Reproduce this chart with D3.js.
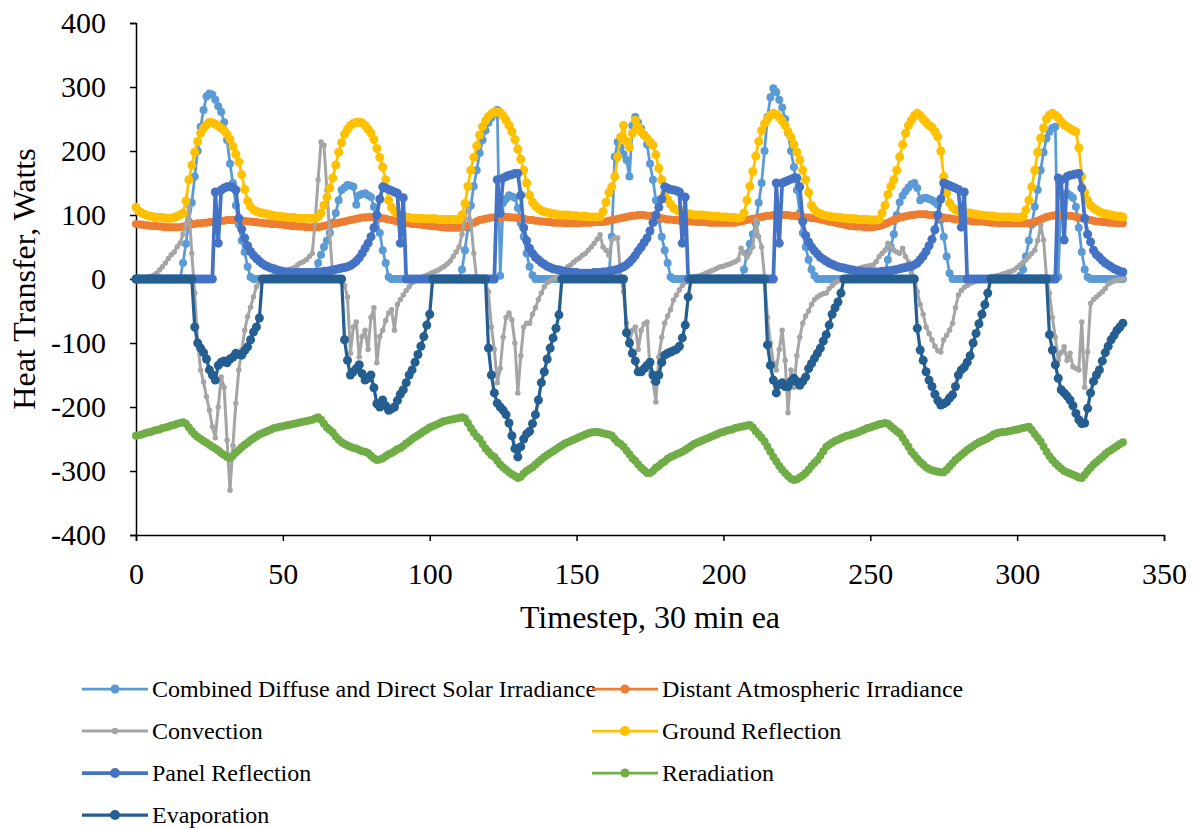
<!DOCTYPE html>
<html>
<head>
<meta charset="utf-8">
<script src="https://cdn.jsdelivr.net/npm/d3@7"></script>
<style>
  body { margin: 0; background: #fff; }
  svg text { font-family: "Liberation Serif", "Times New Roman", serif; fill: #000; }
</style>
</head>
<body>
<div id="chart"></div>
<script>
// Values, one row per day (48 half-hour steps)
const solar = [
  0,0,0,0,0,0,0,0,0,0,0,0,0,0,0,0,25,55,90,119,160,200,238,264,285,290,288,280,270,261,245,217,180,150,115,85,60,42,19,3,0,0,0,0,0,0,0,0,
  0,0,0,0,0,0,0,0,0,0,0,0,0,10,25,38,50,60,72,88,103,123,139,143,147,146,144,116,131,133,134,131,128,113,92,72,45,25,3,0,0,0,0,0,0,0,0,0,
  0,0,0,0,0,0,0,0,0,0,0,0,0,0,0,15,45,80,115,145,170,197,217,232,244,252,258,264,5,119,125,131,129,127,111,87,66,40,19,6,0,0,0,0,0,0,0,0,
  0,0,0,0,0,0,0,0,0,0,0,0,0,0,0,0,0,5,66,191,214,205,195,186,160,240,253,244,235,225,210,180,155,123,92,66,45,25,3,0,0,0,0,0,0,0,0,0,
  0,0,0,0,0,0,0,0,0,0,0,0,0,0,0,15,40,55,70,87,119,150,200,253,284,298,292,280,268,250,228,200,175,139,103,72,50,30,15,5,0,0,0,0,0,0,0,0,
  0,0,0,0,0,0,0,0,0,0,0,0,0,0,0,10,30,50,70,100,120,130,137,143,148,150,142,123,126,127,125,123,120,116,92,66,35,9,0,0,0,0,0,0,0,0,0,0,
  0,0,0,0,0,0,0,0,0,0,0,0,0,5,15,35,60,85,113,139,170,198,220,230,236,238,3,131,132,134,131,127,113,80,42,15,3,0,0,0,0,0,0,0,0,0,0,0,0
];

const atmospheric = [
  86,85,85,84,84,83,83,83,82,82,81,81,81,81,81,81,82,83,84,85,86,87,87,88,88,89,89,90,90,91,91,92,92,92,92,92,91,91,90,90,89,89,88,88,87,87,86,86,
  86,85,85,84,84,83,83,82,82,82,81,81,81,81,81,82,83,84,85,86,87,88,89,90,91,92,93,94,95,96,96,97,97,97,96,96,95,94,93,92,91,90,89,88,88,87,86,86,
  85,85,84,84,83,83,82,82,81,81,80,80,80,80,80,81,82,84,86,88,90,92,93,94,95,96,96,97,97,97,97,97,96,96,95,95,94,93,92,92,91,91,90,90,89,89,88,88,
  88,88,87,87,87,87,87,87,88,88,88,88,89,89,89,89,90,91,92,93,94,95,96,97,98,99,99,100,100,100,99,99,98,97,96,95,94,93,93,92,92,91,91,91,90,90,90,89,
  89,89,89,88,88,88,88,88,88,88,88,88,88,89,90,91,92,93,94,95,96,97,98,99,99,100,100,100,100,100,100,99,99,98,98,97,96,96,95,95,94,93,92,91,90,89,88,87,
  86,85,84,83,83,82,82,82,81,81,81,81,82,83,84,86,88,90,92,94,96,97,98,99,100,100,101,101,101,101,100,100,99,98,97,96,95,95,94,93,93,92,92,91,91,90,90,90,
  90,89,89,88,88,88,87,87,87,87,87,87,87,87,87,87,87,88,89,91,93,95,97,98,99,100,100,100,100,99,99,98,97,96,95,94,93,92,91,90,90,89,89,88,88,88,87,87,87
];

const convection = [
  0,0,1,2,3,4,6,9,14,19,25,32,38,42,50,56,70,85,113,40,-22,-100,-142,-161,-184,-205,-231,-248,-200,-153,-169,-252,-330,-260,-194,-142,-111,-80,-59,-44,-28,-12,-6,-2,0,2,4,6,
  8,10,12,13,14,16,18,22,25,27,30,35,40,90,155,214,209,139,69,3,0,-2,-5,-10,-28,-116,-75,-67,-122,-90,-80,-110,-60,-45,-131,-90,-80,-65,-53,-48,-80,-40,-32,-25,-18,-12,-6,-3,
  0,2,4,6,8,10,12,14,17,20,24,28,35,42,50,70,95,115,90,40,0,-2,-3,-5,-20,-75,-110,-162,-140,-91,-60,-53,-64,-100,-178,-120,-75,-69,-69,-55,-45,-32,-22,-12,-6,-3,0,2,
  4,6,10,19,22,26,30,33,37,40,45,50,56,62,69,50,45,37,61,64,64,3,-20,-69,-100,-80,-75,-110,-80,-70,-67,-142,-160,-192,-122,-91,-69,-58,-48,-33,-25,-17,-10,-5,-2,0,2,4,
  5,7,9,11,13,15,17,19,20,22,23,25,27,30,48,40,34,42,50,92,66,50,3,-60,-100,-131,-142,-110,-80,-127,-209,-142,-169,-120,-91,-69,-58,-50,-40,-32,-28,-25,-23,-22,-15,-10,-6,-3,
  -2,0,3,6,9,14,16,18,19,20,21,22,27,35,40,45,56,50,45,42,40,48,35,27,10,3,-20,-40,-55,-75,-85,-95,-105,-112,-114,-95,-88,-80,-69,-45,-25,-18,-13,-10,-7,-5,-3,-2,
  0,1,2,3,4,5,6,8,9,11,12,14,18,22,26,30,35,40,45,60,84,61,3,-22,-60,-91,-127,-115,-106,-127,-116,-137,-140,-142,-67,-169,-114,-38,-32,-28,-24,-20,-15,-8,-5,-3,-2,-1,0
];

const ground = [
  112,106,103,101,99,98,97,96,96,96,95,95,95,96,98,100,103,122,155,178,198,215,228,236,241,245,244,242,239,236,232,226,218,207,195,183,163,140,122,113,108,106,104,103,102,101,100,99,
  98,98,97,97,96,96,96,95,95,95,95,95,95,95,97,103,115,128,142,158,178,198,213,226,234,240,243,245,245,244,240,234,228,218,204,190,175,155,123,112,106,103,100,98,97,96,95,95,
  95,95,94,94,94,94,94,93,93,93,93,93,93,93,93,100,118,145,170,190,208,225,238,247,254,258,261,261,260,255,248,240,230,218,203,187,170,150,131,120,114,110,107,105,104,103,102,101,
  100,100,100,100,99,99,99,98,98,98,97,97,97,97,97,105,120,135,144,160,191,222,240,215,206,228,248,238,230,225,220,214,209,194,173,155,134,124,117,111,108,106,104,103,102,101,100,100,
  100,100,99,99,98,98,98,97,97,97,96,96,96,95,96,103,123,145,168,192,215,232,243,250,256,259,257,253,247,240,230,222,210,198,186,170,155,135,115,108,104,102,100,99,98,97,97,96,
  96,95,95,94,94,94,93,93,93,93,92,92,92,93,103,115,132,145,155,170,191,210,228,240,248,255,259,255,250,245,240,237,230,222,200,160,134,119,112,108,106,105,104,103,103,102,101,100,
  100,99,99,98,98,97,97,97,97,97,97,96,96,96,98,108,123,144,170,198,220,236,250,256,259,256,252,246,241,238,235,232,230,205,160,135,123,115,111,108,105,103,102,101,100,99,98,98,97
];

const panel = [
  0,0,0,0,0,0,0,0,0,0,0,0,0,0,0,0,0,0,0,0,0,0,0,0,0,0,0,136,56,139,142,144,144,143,139,95,78,64,52,43,37,32,28,24,21,19,17,16,
  14,13,12,11,11,10,10,10,10,10,10,10,10,10,11,11,12,12,13,14,15,16,17,18,19,21,24,28,33,40,48,56,66,80,100,125,144,142,140,138,136,134,56,127,0,0,0,0,
  0,0,0,0,0,0,0,0,0,0,0,0,0,0,0,0,0,0,0,0,0,0,0,0,0,0,0,155,103,158,160,162,163,165,165,131,80,60,48,40,34,30,26,23,20,18,16,15,
  14,13,12,11,10,10,10,9,9,9,9,9,10,10,10,11,11,12,13,14,15,17,19,22,26,31,37,44,50,57,64,75,88,100,112,125,144,142,140,139,138,136,56,128,0,0,0,0,
  0,0,0,0,0,0,0,0,0,0,0,0,0,0,0,0,0,0,0,0,0,0,0,0,0,0,150,56,150,152,154,156,158,158,144,90,68,58,50,44,39,34,31,28,25,23,21,19,
  18,17,16,15,14,13,12,12,11,11,11,11,11,11,12,12,13,13,14,15,16,17,18,19,20,22,25,30,36,43,52,62,77,100,125,150,148,146,144,142,140,81,136,0,0,0,0,0,
  0,0,0,0,0,0,0,0,0,0,0,0,0,0,0,0,0,0,0,0,0,0,0,0,0,0,158,155,61,160,162,163,164,165,142,95,70,58,45,38,34,29,25,22,19,16,14,12,11
];

const reradiation = [
  -245,-244,-243,-241,-240,-239,-237,-236,-235,-233,-232,-231,-229,-228,-226,-225,-224,-226,-232,-238,-243,-247,-250,-253,-256,-259,-262,-265,-268,-272,-275,-278,-280,-276,-271,-267,-263,-259,-256,-252,-249,-246,-243,-241,-239,-237,-235,-233,
  -232,-231,-230,-229,-228,-227,-226,-225,-224,-223,-222,-221,-220,-218,-216,-220,-226,-232,-236,-240,-246,-251,-255,-258,-260,-262,-264,-265,-267,-269,-270,-272,-276,-280,-283,-282,-280,-277,-274,-272,-269,-266,-264,-261,-257,-254,-250,-247,
  -244,-241,-238,-235,-232,-230,-228,-226,-224,-222,-221,-220,-219,-218,-217,-216,-218,-225,-233,-240,-246,-250,-258,-265,-270,-275,-278,-284,-290,-294,-298,-302,-305,-308,-311,-309,-304,-300,-297,-294,-290,-286,-282,-278,-275,-272,-269,-266,
  -263,-260,-257,-255,-253,-251,-249,-247,-245,-243,-241,-240,-239,-239,-240,-241,-242,-243,-245,-250,-255,-258,-262,-268,-274,-280,-284,-290,-295,-299,-303,-303,-300,-295,-292,-288,-285,-281,-278,-276,-274,-272,-270,-267,-264,-261,-258,-256,
  -254,-252,-250,-248,-246,-244,-242,-240,-239,-237,-236,-235,-233,-232,-231,-230,-229,-228,-232,-238,-243,-248,-254,-262,-270,-278,-285,-292,-298,-303,-308,-312,-314,-313,-310,-307,-303,-298,-292,-287,-283,-276,-269,-262,-259,-256,-253,-251,
  -249,-247,-245,-244,-242,-241,-239,-237,-235,-233,-232,-230,-229,-227,-226,-225,-226,-230,-234,-238,-241,-248,-255,-262,-270,-275,-281,-286,-290,-294,-297,-299,-300,-301,-302,-302,-298,-293,-288,-283,-279,-275,-271,-267,-264,-261,-258,-255,
  -253,-251,-249,-246,-243,-241,-240,-239,-239,-238,-237,-236,-235,-234,-233,-232,-231,-236,-242,-248,-254,-262,-270,-277,-283,-288,-292,-296,-300,-302,-304,-306,-308,-310,-311,-306,-300,-295,-290,-286,-282,-278,-274,-270,-267,-264,-261,-258,-255
];

const evaporation = [
  0,0,0,0,0,0,0,0,0,0,0,0,0,0,0,0,0,0,0,0,-75,-100,-108,-115,-125,-142,-150,-158,-135,-130,-128,-131,-125,-122,-116,-118,-119,-112,-106,-95,-83,-75,-61,0,0,0,0,0,
  0,0,0,0,0,0,0,0,0,0,0,0,0,0,0,0,0,0,0,0,0,0,0,-95,-127,-150,-145,-140,-134,-148,-158,-155,-150,-170,-195,-200,-189,-198,-205,-203,-200,-190,-180,-173,-162,-150,-142,-130,
  -118,-105,-90,-72,-55,0,0,0,0,0,0,0,0,0,0,0,0,0,0,0,0,0,0,0,-108,-150,-178,-194,-200,-205,-212,-225,-245,-265,-278,-262,-250,-242,-238,-226,-212,-189,-162,-145,-125,-108,-92,-77,
  -56,0,0,0,0,0,0,0,0,0,0,0,0,0,0,0,0,0,0,0,0,0,0,-84,-100,-116,-128,-145,-145,-140,-135,-130,-150,-160,-150,-130,-119,-116,-114,-112,-110,-105,-92,-72,-28,0,0,0,
  0,0,0,0,0,0,0,0,0,0,0,0,0,0,0,0,0,0,0,0,0,0,0,-103,-135,-158,-178,-165,-162,-168,-168,-160,-155,-160,-166,-160,-153,-140,-132,-124,-116,-108,-97,-87,-72,-55,-45,-36,
  -22,0,0,0,0,0,0,0,0,0,0,0,0,0,0,0,0,0,0,0,0,0,0,0,0,0,-77,-111,-127,-145,-158,-168,-180,-190,-197,-195,-192,-186,-181,-168,-150,-142,-138,-130,-120,-100,-85,-70,
  -55,-40,-22,0,0,0,0,0,0,0,0,0,0,0,0,0,0,0,0,0,0,0,0,-87,-111,-134,-155,-173,-178,-183,-189,-198,-210,-220,-226,-225,-202,-178,-160,-150,-142,-128,-115,-105,-95,-88,-80,-75,-69
];

const yTicks = [-400, -300, -200, -100, 0, 100, 200, 300, 400];
const xTicks = [0, 50, 100, 150, 200, 250, 300, 350];

const series = [
  { name: 'Combined Diffuse and Direct Solar Irradiance', values: solar, color: '#5B9BD5', width: 2.75, r: 4 },
  { name: 'Distant Atmospheric Irradiance', values: atmospheric, color: '#ED7D31', width: 2.75, r: 4 },
  { name: 'Convection', values: convection, color: '#A5A5A5', width: 3, r: 2.75 },
  { name: 'Ground Reflection', values: ground, color: '#FFC000', width: 2.75, r: 4.5 },
  { name: 'Panel Reflection', values: panel, color: '#4472C4', width: 3.75, r: 4.5 },
  { name: 'Reradiation', values: reradiation, color: '#70AD47', width: 2.75, r: 4 },
  { name: 'Evaporation', values: evaporation, color: '#255E91', width: 3.25, r: 4.5 },
];

const width = 1198;
const height = 829;

const svg = d3.select('#chart')
  .append('svg')
  .attr('width', width)
  .attr('height', height);

// Scales
const x = d3.scaleLinear().domain([0, 350]).range([136, 1164]);
const y = d3.scaleLinear().domain([-400, 400]).range([535, 23]);

// Axes
const yAxis = d3.axisLeft(y).tickValues(yTicks).tickSize(6).tickPadding(24).tickFormat((d) => String(d));
const xAxis = d3.axisBottom(x).tickValues(xTicks).tickSize(6).tickPadding(22).tickFormat((d) => String(d));

const gy = svg.append('g').attr('transform', `translate(${x(0)}, 0)`).call(yAxis);
const gx = svg.append('g').attr('transform', `translate(0, ${y(-400)})`).call(xAxis);

[gy, gx].forEach((g) => {
  g.select('.domain').attr('stroke', '#000').attr('stroke-width', 1.5);
  g.selectAll('.tick line').attr('stroke', '#000').attr('stroke-width', 1.5);
  g.selectAll('.tick text')
    .attr('font-family', '"Liberation Serif", serif')
    .attr('font-size', 30)
    .attr('fill', '#000');
});

// Axis titles
svg.append('text')
  .attr('transform', `translate(35, ${y(0)}) rotate(-90)`)
  .attr('text-anchor', 'middle')
  .attr('font-size', 32)
  .text('Heat Transfer, Watts');

svg.append('text')
  .attr('x', (x(0) + x(350)) / 2)
  .attr('y', 628)
  .attr('text-anchor', 'middle')
  .attr('font-size', 32)
  .text('Timestep, 30 min ea');

// Lines and markers
const line = d3.line()
  .x((d, i) => x(i))
  .y((d) => y(d));

const plot = svg.append('g');

series.forEach((s) => {
  const g = plot.append('g');
  g.append('path')
    .datum(s.values)
    .attr('fill', 'none')
    .attr('stroke', s.color)
    .attr('stroke-width', s.width)
    .attr('stroke-linejoin', 'round')
    .attr('d', line);

  g.selectAll('circle')
    .data(s.values)
    .enter()
    .append('circle')
    .attr('cx', (d, i) => x(i))
    .attr('cy', (d) => y(d))
    .attr('r', s.r)
    .attr('fill', s.color);
});

// Legend, two columns
const legendPos = [
  [82, 689], [592, 689],
  [82, 731], [592, 731],
  [82, 773], [592, 773],
  [82, 815],
];

const legend = svg.append('g');
series.forEach((s, i) => {
  const [lx, ly] = legendPos[i];
  const item = legend.append('g');
  item.append('line')
    .attr('x1', lx).attr('x2', lx + 66)
    .attr('y1', ly).attr('y2', ly)
    .attr('stroke', s.color)
    .attr('stroke-width', s.width);
  item.append('circle')
    .attr('cx', lx + 33).attr('cy', ly)
    .attr('r', s.r + 0.5)
    .attr('fill', s.color);
  item.append('text')
    .attr('x', lx + 70)
    .attr('y', ly)
    .attr('dy', '0.35em')
    .attr('font-size', 24)
    .text(s.name);
});
</script>
</body>
</html>
